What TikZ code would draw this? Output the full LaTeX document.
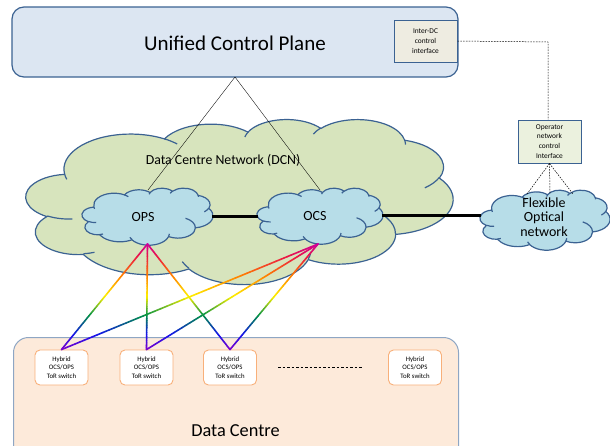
\documentclass[tikz,border=0pt]{standalone}
\usepackage{fontspec}
\setmainfont{Carlito}
\usetikzlibrary{calc}

\definecolor{edgeblue}{HTML}{3B6292}
\definecolor{ucpfill}{HTML}{DCE6F2}
\definecolor{ifacefill}{HTML}{EEECE1}
\definecolor{opfill}{HTML}{EBF1DE}
\definecolor{dcnfill}{HTML}{D7E4BD}
\definecolor{skyfill}{HTML}{B7DDE8}
\definecolor{dcfill}{HTML}{FDEADA}
\definecolor{dcedge}{HTML}{8EA6C4}
\definecolor{toredge}{HTML}{F8B07A}

% colour stops of the optical links
\definecolor{rbA}{RGB}{205,0,160}
\definecolor{rbB}{RGB}{235,20,70}
\definecolor{rbC}{RGB}{255,125,0}
\definecolor{rbD}{RGB}{255,240,0}
\definecolor{rbE}{RGB}{0,145,70}
\definecolor{rbF}{RGB}{20,20,235}
\definecolor{rbG}{RGB}{125,0,205}

% cloud outline on a 43.2 x 43.2 grid, arcs given by visual angles
\newcommand\cloudouter{}
\newcommand\cloudinner{}
\newcommand\cladd[5]{%
  \pgfmathsetmacro\clangA{#4}%
  \pgfmathsetmacro\clangB{#4+#5}%
  \pgfmathsetmacro\clparA{atan2(#2*sin(\clangA),#3*cos(\clangA))}%
  \pgfmathsetmacro\clparB{atan2(#2*sin(\clangB),#3*cos(\clangB))}%
  \pgfmathsetmacro\clsweep{mod(\clparB-\clparA+720,360)}%
  \xdef#1{#1 arc[start angle=\clparA, delta angle=\clsweep, x radius=#2, y radius=#3]}%
}
\cladd\cloudouter{6.753}{9.190}{-190.4875}{123.7805}
\cladd\cloudouter{5.333}{7.267}{-144.1024}{89.9452}
\cladd\cloudouter{4.365}{5.945}{-145.8079}{99.7230}
\cladd\cloudouter{4.857}{6.595}{-130.9861}{117.2417}
\cladd\cloudouter{5.333}{7.273}{-78.7089}{109.0269}
\cladd\cloudouter{6.775}{9.220}{-46.2673}{130.2690}
\cladd\cloudouter{5.785}{7.867}{0.6250}{114.0333}
\cladd\cloudouter{6.752}{9.215}{22.4516}{115.1726}
\cladd\cloudouter{7.720}{10.543}{66.2426}{75.7110}
\cladd\cloudouter{4.360}{5.918}{-274.9421}{146.7356}
\cladd\cloudouter{4.345}{5.945}{-246.8285}{152.5189}
\newcommand\clinner[6]{\xdef\cloudinner{\cloudinner (#1,#2)}\cladd\cloudinner{#3}{#4}{#5}{#6}}
\clinner{4.693}{26.177}{4.345}{5.945}{86.7420}{26.4295}
\clinner{6.928}{34.899}{4.360}{5.918}{73.6105}{11.4475}
\clinner{16.478}{39.090}{6.752}{9.215}{137.6242}{14.0811}
\clinner{28.827}{34.751}{6.752}{9.215}{6.4533}{15.9984}
\clinner{34.129}{22.954}{5.785}{7.867}{-70.2924}{70.9174}
\clinner{41.798}{15.354}{5.333}{7.273}{30.3180}{27.7515}
\clinner{38.324}{5.426}{4.857}{6.595}{-13.7443}{14.8589}
\clinner{29.078}{3.952}{4.857}{6.595}{-149.1815}{18.1954}
\clinner{22.141}{4.720}{4.365}{5.945}{-163.4943}{17.6864}
\clinner{14.000}{5.192}{6.753}{9.190}{-66.7070}{12.3194}
\clinner{4.127}{15.789}{6.753}{9.190}{157.6544}{11.8582}

% \drawcloud{centre x}{centre y}{width}{height}{fill}
\newcommand\drawcloud[5]{%
  \pgfmathsetmacro\clux{#3/43.2}%
  \pgfmathsetmacro\cluy{-#4/43.2}%
  \pgfmathsetmacro\clsx{#1-#3/2}%
  \pgfmathsetmacro\clsy{#2-#4/2}%
  \begin{scope}[shift={(\clsx,\clsy)}, x=\clux pt, y=\cluy pt]
    \filldraw[fill=#5, draw=edgeblue, line width=1.2pt] (3.900,14.370) \cloudouter -- cycle;
    \draw[edgeblue, line width=1.2pt] \cloudinner;
  \end{scope}}

% optical link shaded from magenta at the first end to purple at the second
\newcommand\rbline[2]{%
  \foreach \sa/\sb/\ca/\cb in {0/0.12/rbA/rbB, 0.12/0.3/rbB/rbC, 0.3/0.5/rbC/rbD,
      0.5/0.68/rbD/rbE, 0.68/0.86/rbE/rbF, 0.86/1/rbF/rbG}{%
    \foreach \k in {0,...,7}{%
      \pgfmathsetmacro\ua{\sa+(\sb-\sa)*\k/8}%
      \pgfmathsetmacro\ub{\sa+(\sb-\sa)*(\k+1)/8}%
      \pgfmathtruncatemacro\pp{(\k+0.5)/8*100}%
      \colorlet{rbc}{\cb!\pp!\ca}%
      \draw[rbc,line width=1.6pt,line cap=round] ($(#1)!\ua!(#2)$) -- ($(#1)!\ub!(#2)$);
    }}}

\tikzset{
  cloudlabel/.style={font=\fontsize{14}{14.2}\selectfont, align=center},
  ifacebox/.style={draw=edgeblue, line width=1pt, inner sep=0pt, align=center,
    font=\fontsize{7.4}{9.8}\selectfont},
  torbox/.style={draw=toredge, fill=white, line width=0.9pt, rounded corners=5pt,
    minimum width=53pt, minimum height=35pt, inner sep=0pt, align=center,
    font=\fontsize{6.8}{8.5}\selectfont},
  ctrl/.style={black, line width=0.35pt},
  dashctl/.style={black, line width=0.5pt, dash pattern=on 1.6pt off 1.2pt},
  trunk/.style={black, line width=3pt},
}

\begin{document}
\begin{tikzpicture}[x=1pt,y=-1pt]
\useasboundingbox (0,0) rectangle (610,445);

% data centre area
\node[draw=dcedge, fill=dcfill, line width=1pt, rounded corners=15pt,
  minimum width=445pt, minimum height=130pt, anchor=north west] (dc) at (13,337) {};
\node[font=\fontsize{18.3}{20}\selectfont] (dclabel) at (235.5,431) {Data Centre};

% top-of-rack switches
\node[torbox] (tor1) at (61.5,367.5) {Hybrid\\OCS/OPS\\ToR switch};
\node[torbox] (tor2) at (146.5,367.5) {Hybrid\\OCS/OPS\\ToR switch};
\node[torbox] (tor3) at (230,367.5) {Hybrid\\OCS/OPS\\ToR switch};
\node[torbox] (tor4) at (415,367.5) {Hybrid\\OCS/OPS\\ToR switch};
\coordinate (gapa) at (278,367);
\coordinate (gapb) at (363,367);
\draw[black, line width=0.6pt, dash pattern=on 2.5pt off 2pt] (gapa) -- (gapb);

% unified control plane
\node[draw=edgeblue, fill=ucpfill, line width=1.2pt, rounded corners=12pt,
  minimum width=446pt, minimum height=70pt, inner sep=0pt] (ucp) at (235,42) {};
\node[font=\fontsize{21}{24}\selectfont] (ucptext) at (235,43) {Unified Control Plane};
\node[ifacebox, fill=ifacefill, minimum width=63pt, minimum height=42pt] (interdc)
  at (425.5,41) {Inter-DC\\control\\interface};

% data centre network with its two switching clouds
\drawcloud{239.5}{201.5}{427}{165}{dcnfill}
\node[font=\fontsize{13.8}{15}\selectfont] (dcntext) at (223,160) {Data Centre Network (DCN)};
\drawcloud{147.5}{216.5}{131}{57}{skyfill}
\node[cloudlabel] (ops) at (143,216.5) {OPS};
\drawcloud{320}{216}{126}{56}{skyfill}
\node[cloudlabel] (ocs) at (315,216) {OCS};

% flexible optical network and its control interface
\drawcloud{545}{220}{130}{60}{skyfill}
\node[cloudlabel] (fon) at (544,217) {Flexible\\Optical\\network};
\node[ifacebox, fill=opfill, minimum width=63pt, minimum height=43pt] (opif)
  at (549.5,141.5) {Operator\\network\\control\\Interface};

% links between switching domains
\coordinate (opsright) at (212,216);
\coordinate (ocsleft) at (258,216);
\coordinate (ocsright) at (382,215);
\coordinate (fonleft) at (481,215);
\draw[trunk] (opsright) -- (ocsleft);
\draw[trunk] (ocsright) -- (fonleft);

% control connections
\coordinate (ucpfoot) at (235,77);
\coordinate (opsctl) at (148,190);
\coordinate (ocsctl) at (320,190);
\draw[ctrl] (ucpfoot) -- (opsctl);
\draw[ctrl] (ucpfoot) -- (ocsctl);

\coordinate (bend) at (548,42);
\draw[dashctl] (interdc.east) -- (bend) -- (opif.north -| bend);

\coordinate (fona) at (527,194);
\coordinate (fonb) at (550,193);
\coordinate (fonc) at (573,194);
\draw[dashctl] (opif.south) -- (fona);
\draw[dashctl] (opif.south) -- (fonb);
\draw[dashctl] (opif.south) -- (fonc);

% optical links to the racks
\coordinate (opsfoot) at (147.5,244);
\coordinate (ocsfoot) at (318,244);
\rbline{opsfoot}{tor1.north}
\rbline{opsfoot}{tor2.north}
\rbline{opsfoot}{tor3.north}
\rbline{ocsfoot}{tor1.north}
\rbline{ocsfoot}{tor2.north}
\rbline{ocsfoot}{tor3.north}
\end{tikzpicture}
\end{document}
